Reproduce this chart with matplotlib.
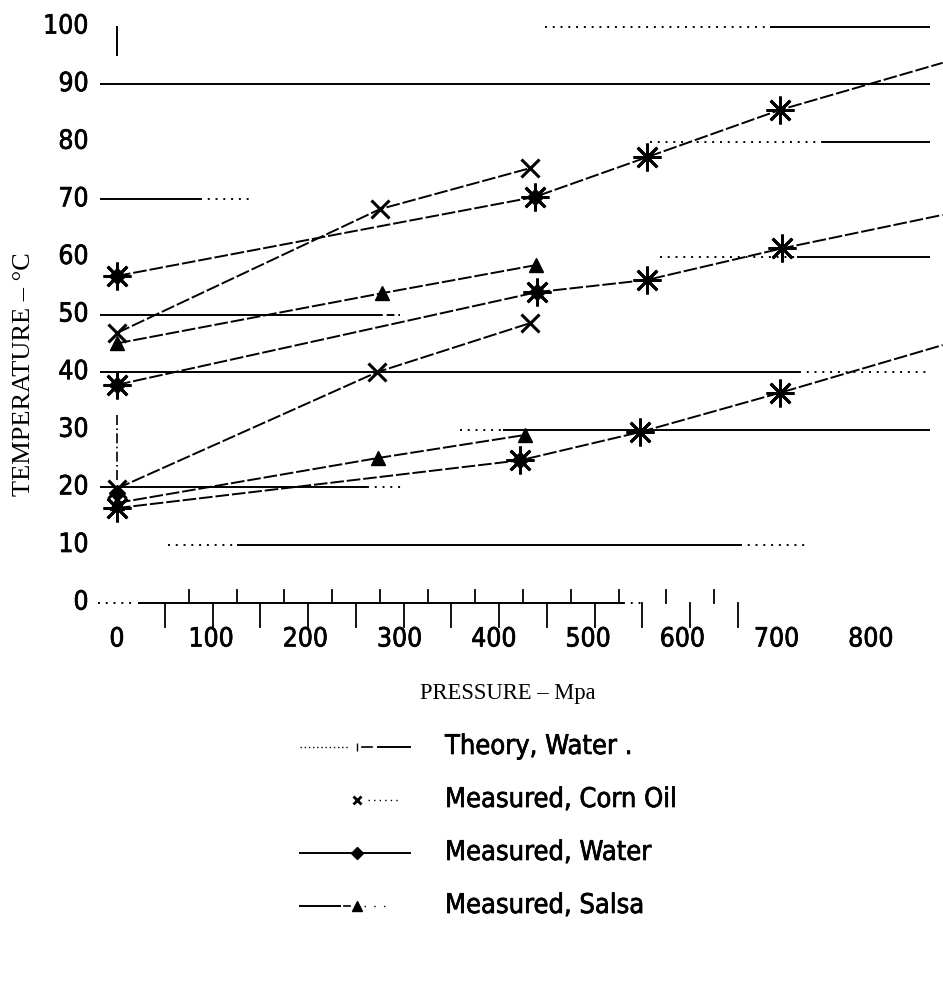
import matplotlib
matplotlib.use("Agg")
import matplotlib.pyplot as plt
import matplotlib.patheffects as pe
import numpy as np

# ---------------- data ----------------
# Theory, Water: three curves (last point = where the line leaves the frame)
theory_top_x = [0, 443, 562, 703, 876]
theory_top_y = [56.7, 70.4, 77.3, 85.5, 93.7]
theory_mid_x = [0, 446, 562, 706, 876]
theory_mid_y = [37.8, 53.9, 56.0, 61.5, 67.3]
theory_low_x = [0, 428, 555, 703, 876]
theory_low_y = [16.4, 24.7, 29.6, 36.4, 44.7]

# Measured, Corn Oil
corn_top_x = [0, 279, 438]
corn_top_y = [46.8, 68.3, 75.4]
corn_low_x = [0, 276, 438]
corn_low_y = [19.8, 40.0, 48.5]

# Measured, Water
water_x = [0, 443, 0, 446, 0, 428]
water_y = [56.7, 70.4, 37.8, 53.9, 19.0, 24.7]

# Measured, Salsa
salsa_top_x = [0, 281, 445]
salsa_top_y = [45.0, 53.7, 58.6]
salsa_low_x = [0, 277, 433]
salsa_low_y = [17.3, 25.1, 29.1]

y_ticks = [0, 10, 20, 30, 40, 50, 60, 70, 80, 90, 100]
x_ticks = [0, 100, 200, 300, 400, 500, 600, 700, 800]

legend_labels = ["Theory, Water", "Measured, Corn Oil", "Measured, Water", "Measured, Salsa"]

# broken (scanned) horizontal grid lines: level, [(x0, x1, style), ...]
grid_segments = {
    100: [(454, 693, "dot"), (693, 863, "solid")],
    90: [(-18, 863, "solid")],
    80: [(566, 748, "dot"), (748, 863, "solid")],
    70: [(-18, 88, "solid"), (88, 143, "dot")],
    60: [(576, 722, "dot"), (722, 863, "solid")],
    50: [(-18, 274, "solid"), (274, 300, "dash")],
    40: [(-18, 724, "solid"), (724, 860, "dot")],
    30: [(364, 410, "dot"), (410, 863, "solid")],
    20: [(-18, 265, "solid"), (265, 302, "dot")],
    10: [(54, 127, "dot"), (127, 661, "solid"), (661, 730, "dot")],
    0: [(-20, 20, "dot"), (22, 537, "solid"), (537, 560, "dot")],
}

FONT = dict(family="DejaVu Sans", fontstretch="condensed")
BOLDISH = [pe.withStroke(linewidth=0.5, foreground="black")]

fig = plt.figure(figsize=(9.43, 9.84), dpi=100)
ax = fig.add_axes([100 / 943, 1 - 650 / 984, 843 / 943, 635 / 984])
ax.set_xlim(-18.04, 876.4)
ax.set_ylim(-8.23, 102.0)
ax.axis("off")

styles = {"solid": "-", "dot": (0, (1, 3)), "dash": (0, (4, 2))}
for level, segs in grid_segments.items():
    for x0, x1, st in segs:
        ax.plot([x0, x1], [level, level], color="black", lw=1.4,
                linestyle=styles[st], solid_capstyle="butt", clip_on=False)

# x-axis ticks (alternating up / down, as in the scan)
down_ticks = 50.9 + 50.66 * np.arange(13)
up_ticks = 76.2 + 50.66 * np.arange(12)
for t in down_ticks:
    ax.plot([t, t], [0, -4.3], color="black", lw=1.3)
for t in up_ticks:
    ax.plot([t, t], [0, 2.1], color="black", lw=1.3)

# stray vertical marks at x = 0
ax.plot([0, 0], [95.1, 99.9], color="black", lw=1.4)
ax.plot([0, 0], [21.3, 32.5], color="black", lw=1.2, linestyle=(0, (6, 2, 1, 2)))

# tick labels
for v in y_ticks:
    ax.text(-30, v, str(v), ha="right", va="center", fontsize=19,
            path_effects=BOLDISH, clip_on=False, **FONT)
for v in x_ticks:
    ax.text(v, -6.4, str(v), ha="center", va="center", fontsize=19,
            path_effects=BOLDISH, **FONT)

# axis titles
fig.text(24 / 943, 1 - 374 / 984, "TEMPERATURE – °C", rotation=90, ha="center",
         va="center", family="Liberation Serif", fontsize=19)
fig.text(508 / 943, 1 - 693 / 984, "PRESSURE – Mpa", ha="center", va="center",
         family="Liberation Serif", fontsize=16.3)

ast = (8, 2, 0)
line_kw = dict(color="black", lw=1.4)
dash = (0, (7, 1.5))

# Theory, Water
for xs, ys in [(theory_top_x, theory_top_y), (theory_mid_x, theory_mid_y),
               (theory_low_x, theory_low_y)]:
    ax.plot(xs, ys, linestyle=dash, marker=ast, markevery=[0, 1, 2, 3],
            markersize=20, markeredgewidth=2.0, clip_on=False, **line_kw)

# Measured, Corn Oil
for xs, ys in [(corn_top_x, corn_top_y), (corn_low_x, corn_low_y)]:
    ax.plot(xs, ys, linestyle=dash, marker="x", markersize=13,
            markeredgewidth=2.2, **line_kw)

# Measured, Salsa
for xs, ys in [(salsa_top_x, salsa_top_y), (salsa_low_x, salsa_low_y)]:
    ax.plot(xs, ys, linestyle=dash, marker="^", markersize=10, **line_kw)

# Measured, Water (filled centres under the asterisks)
ax.plot(water_x, water_y, linestyle="none", marker="D", markersize=8,
        color="black")

# ---------------- legend (drawn below the chart) ----------------
lax = fig.add_axes([0, 0, 1, 1])
lax.set_xlim(0, 943)
lax.set_ylim(984, 0)
lax.axis("off")
rows = [747, 800, 853, 906]
mk_x = 357
# Theory
lax.plot([300, 350], [rows[0]] * 2, color="black", lw=1.0, linestyle=(0, (1, 2)))
lax.plot([mk_x], [rows[0]], marker="|", color="black", markersize=6)
lax.plot([362, 372], [rows[0]] * 2, color="black", lw=1.2)
lax.plot([378, 410], [rows[0]] * 2, color="black", lw=1.4)
# Corn oil
lax.plot([mk_x], [rows[1]], marker="x", color="black", markersize=6, markeredgewidth=2)
lax.plot([368, 400], [rows[1]] * 2, color="black", lw=1.0, linestyle=(0, (1, 3)))
# Water
lax.plot([300, 410], [rows[2]] * 2, color="black", lw=1.4)
lax.plot([mk_x], [rows[2]], marker="D", color="black", markersize=6)
# Salsa
lax.plot([300, 340], [rows[3]] * 2, color="black", lw=1.4)
lax.plot([344, 350], [rows[3]] * 2, color="black", lw=1.2)
lax.plot([mk_x], [rows[3]], marker="^", color="black", markersize=7)
lax.plot([364, 385], [rows[3]] * 2, color="black", lw=1.0, linestyle=(0, (1, 6)))
for r, lab in zip(rows, legend_labels):
    lax.text(445, r, lab + (" ." if lab == "Theory, Water" else ""), ha="left",
             va="center", fontsize=19.5, path_effects=BOLDISH, **FONT)

fig.savefig("out.png", dpi=100, facecolor="white")
